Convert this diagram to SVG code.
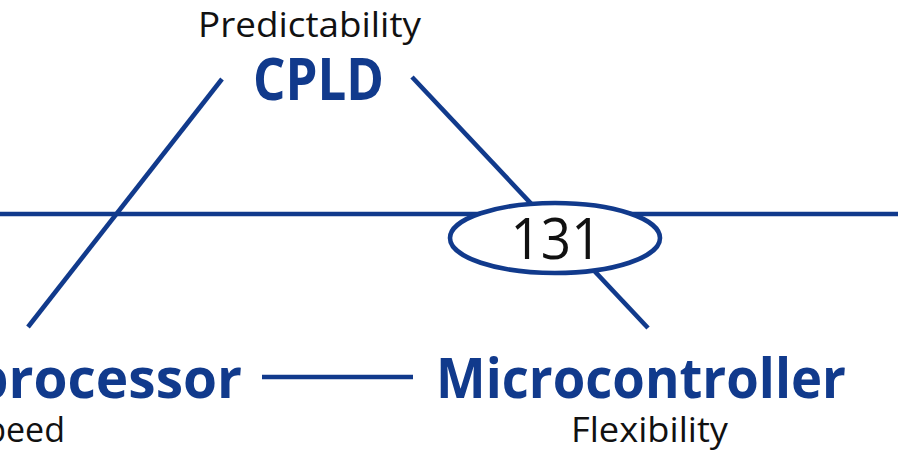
<svg xmlns="http://www.w3.org/2000/svg" width="909" height="455" viewBox="0 0 909 455">
<style>
.ln{stroke:#113A8C;stroke-width:4.6;fill:none}
.title{font-family:"Open Sans","Liberation Sans",sans-serif;font-weight:bold;fill:#113A8C}
.sub{font-family:"Open Sans","Liberation Sans",sans-serif;fill:#111111}
</style>
<rect width="909" height="455" fill="#ffffff"/>
<g id="connectors">
<line class="ln" x1="0" y1="214" x2="898" y2="214"/>
<line class="ln" x1="222" y1="79" x2="28" y2="327"/>
<line class="ln" x1="412" y1="77" x2="648" y2="328"/>
<line class="ln" x1="262" y1="377" x2="413" y2="377"/>
</g>
<g id="cpld">
<text class="sub" x="309.5" y="37" font-size="34" text-anchor="middle" textLength="223" lengthAdjust="spacingAndGlyphs">Predictability</text>
<text class="title" x="318.5" y="100" font-size="59" text-anchor="middle" textLength="131" lengthAdjust="spacingAndGlyphs">CPLD</text>
</g>
<g id="microprocessor">
<text class="title" x="242" y="398" font-size="55" text-anchor="end">Microprocessor</text>
<text class="sub" x="65" y="442" font-size="34" text-anchor="end">Speed</text>
</g>
<g id="microcontroller">
<text class="title" x="641" y="398" font-size="55" text-anchor="middle" textLength="410" lengthAdjust="spacingAndGlyphs">Microcontroller</text>
<text class="sub" x="649.5" y="442" font-size="34" text-anchor="middle" textLength="157" lengthAdjust="spacingAndGlyphs">Flexibility</text>
</g>
<g id="center">
<ellipse cx="555" cy="238" rx="105" ry="35" fill="#ffffff" stroke="#113A8C" stroke-width="4.6"/>
<text class="sub" x="556" y="259" font-size="57" text-anchor="middle" textLength="91" lengthAdjust="spacingAndGlyphs">131</text>
</g>
</svg>
